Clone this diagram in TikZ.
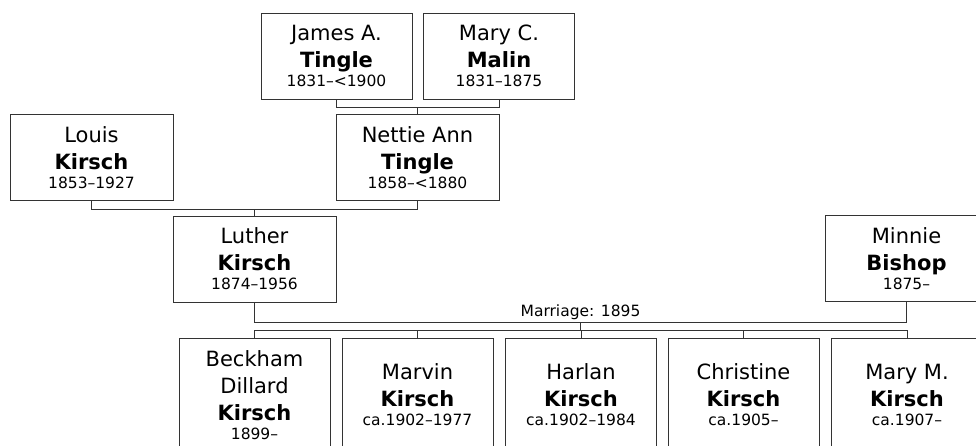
\documentclass[tikz,border=0pt]{standalone}
\usepackage{fontspec}
\setmainfont{DejaVu Sans}
\newcommand{\datefont}{\fontsize{15.5}{19.5}\selectfont}

\begin{document}
\begin{tikzpicture}[x=1pt,y=-1pt,line width=1pt,
  every node/.style={font=\fontsize{21}{27}\selectfont,align=center,inner sep=0pt},
  person/.style={draw=black!80,fill=white,minimum width=163pt,minimum height=86pt},
  parent/.style={person,minimum width=151pt},
  kid/.style={person,minimum width=151pt,minimum height=114pt},
  link/.style={draw=black!80}]
\useasboundingbox (0,0) rectangle (976,445);
\clip (0,0) rectangle (976,445);
\node[parent] (james) at (336.5,56) {James A.\\\textbf{Tingle}\\[-8pt]\datefont 1831–<1900};
\node[parent] (maryc) at (499,56) {Mary C.\\\textbf{Malin}\\[-8pt]\datefont 1831–1875};
\node[person] (louis) at (91.5,157.5) {Louis\\\textbf{Kirsch}\\[-8pt]\datefont 1853–1927};
\node[person] (nettie) at (417.5,157.5) {Nettie Ann\\\textbf{Tingle}\\[-8pt]\datefont 1858–<1880};
\node[person] (luther) at (254.5,259) {Luther\\\textbf{Kirsch}\\[-8pt]\datefont 1874–1956};
\node[person] (minnie) at (906.5,258.5) {Minnie\\\textbf{Bishop}\\[-8pt]\datefont 1875–};
\node[kid] (c1) at (254.5,395) {Beckham\\Dillard\\\textbf{Kirsch}\\[-8pt]\datefont 1899–};
\node[kid] (c2) at (417.5,395) {Marvin\\\textbf{Kirsch}\\[-8pt]\datefont ca.1902–1977};
\node[kid] (c3) at (581,395) {Harlan\\\textbf{Kirsch}\\[-8pt]\datefont ca.1902–1984};
\node[kid] (c4) at (743.5,395) {Christine\\\textbf{Kirsch}\\[-8pt]\datefont ca.1905–};
\node[kid] (c5) at (907,395) {Mary M.\\\textbf{Kirsch}\\[-8pt]\datefont ca.1907–};

\draw[link] (james.south) -- ++(0,8) coordinate (jm) -| (maryc.south);
\draw[link] (nettie.north) -- (nettie.north |- jm);
\draw[link] (louis.south) -- ++(0,8) coordinate (ln) -| (nettie.south);
\draw[link] (luther.north) -- (luther.north |- ln);
\draw[link] (luther.south) -- ++(0,20) coordinate (lm) -| (minnie.south);
\path (lm) -- (lm -| minnie.south) node[midway,above=2pt,font=\datefont] (marr) {Marriage: 1895}
  coordinate[midway] (mid);
\draw[link] (mid) -- ++(0,8) coordinate (kb);
\draw[link] (c1.north) |- (kb) -| (c5.north);
\foreach \k in {c2,c3,c4}
  \draw[link] (\k.north) -- (\k.north |- kb);
\end{tikzpicture}
\end{document}
